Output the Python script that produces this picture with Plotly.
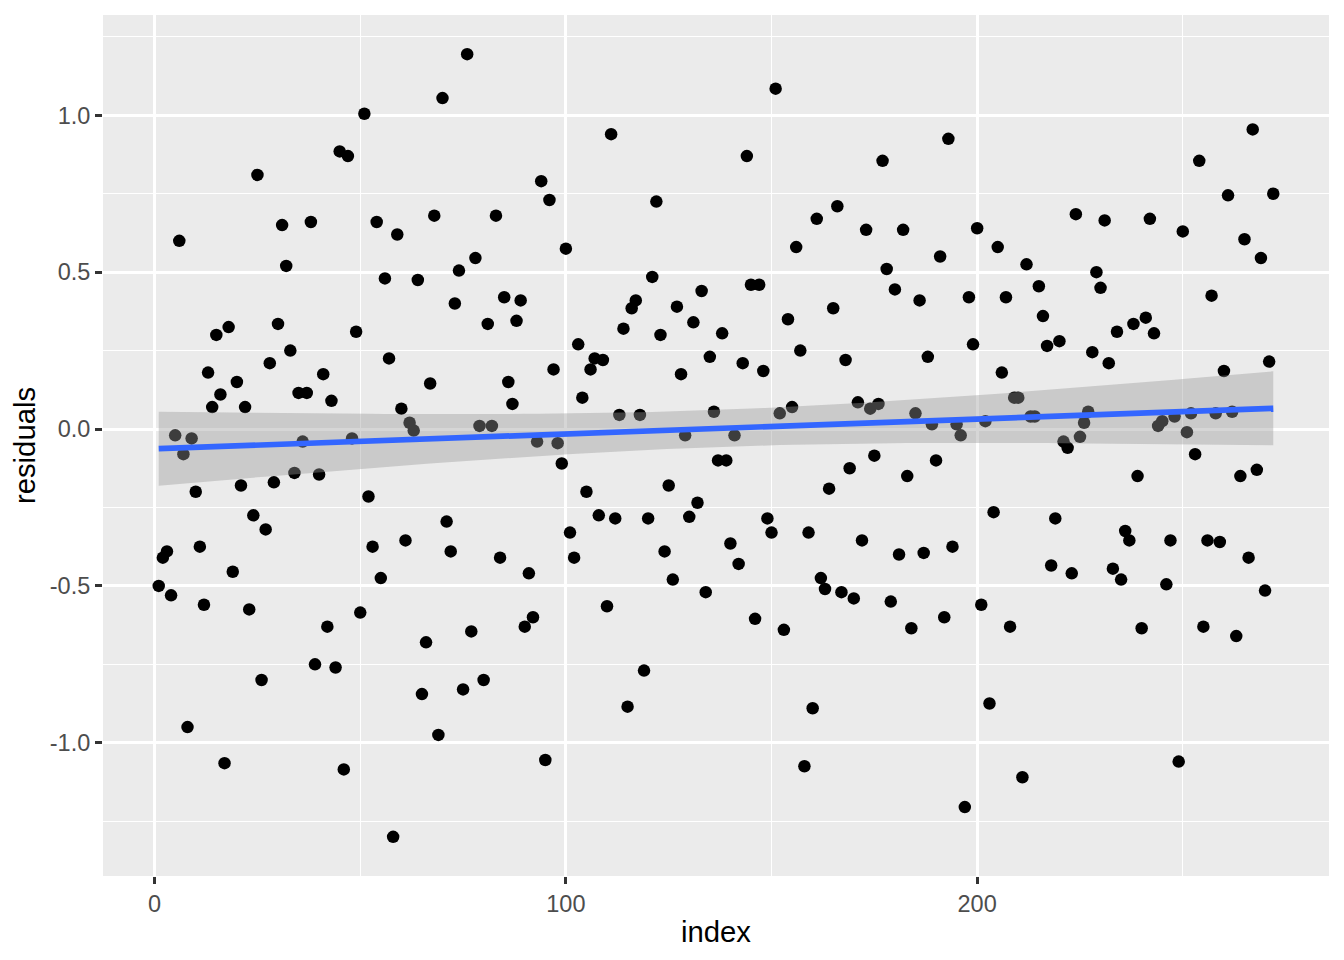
import numpy as np
import plotly.graph_objects as go

# residuals, in index order (index = 1..272)
residuals = [
    -0.50, -0.41, -0.39, -0.53, -0.02, 0.60, -0.08, -0.95, -0.03, -0.20,
    -0.375, -0.56, 0.18, 0.07, 0.30, 0.11, -1.065, 0.325, -0.455, 0.15,
    -0.18, 0.07, -0.575, -0.275, 0.81, -0.80, -0.32, 0.21, -0.17, 0.335,
    0.65, 0.52, 0.25, -0.14, 0.115, -0.04, 0.115, 0.66, -0.75, -0.145,
    0.175, -0.63, 0.09, -0.76, 0.885, -1.085, 0.87, -0.03, 0.31, -0.585,
    1.005, -0.215, -0.375, 0.66, -0.475, 0.48, 0.225, -1.30, 0.62, 0.065,
    -0.355, 0.02, -0.005, 0.475, -0.845, -0.68, 0.145, 0.68, -0.975, 1.055,
    -0.295, -0.39, 0.40, 0.505, -0.83, 1.195, -0.645, 0.545, 0.01, -0.80,
    0.335, 0.01, 0.68, -0.41, 0.42, 0.15, 0.08, 0.345, 0.41, -0.63,
    -0.46, -0.60, -0.04, 0.79, -1.055, 0.73, 0.19, -0.045, -0.11, 0.575,
    -0.33, -0.41, 0.27, 0.10, -0.20, 0.19, 0.225, -0.275, 0.22, -0.565,
    0.94, -0.285, 0.045, 0.32, -0.885, 0.385, 0.41, 0.045, -0.77, -0.285,
    0.485, 0.725, 0.30, -0.39, -0.18, -0.48, 0.39, 0.175, -0.02, -0.28,
    0.34, -0.235, 0.44, -0.52, 0.23, 0.055, -0.10, 0.305, -0.10, -0.365,
    -0.02, -0.43, 0.21, 0.87, 0.46, -0.605, 0.46, 0.185, -0.285, -0.33,
    1.085, 0.05, -0.64, 0.35, 0.07, 0.58, 0.25, -1.075, -0.33, -0.89,
    0.67, -0.475, -0.51, -0.19, 0.385, 0.71, -0.52, 0.22, -0.125, -0.54,
    0.085, -0.355, 0.635, 0.065, -0.085, 0.08, 0.855, 0.51, -0.55, 0.445,
    -0.40, 0.635, -0.15, -0.635, 0.05, 0.41, -0.395, 0.23, 0.015, -0.10,
    0.55, -0.60, 0.925, -0.375, 0.015, -0.02, -1.205, 0.42, 0.27, 0.64,
    -0.56, 0.025, -0.875, -0.265, 0.58, 0.18, 0.42, -0.63, 0.10, 0.10,
    -1.11, 0.525, 0.04, 0.04, 0.455, 0.36, 0.265, -0.435, -0.285, 0.28,
    -0.04, -0.06, -0.46, 0.685, -0.025, 0.02, 0.055, 0.245, 0.50, 0.45,
    0.665, 0.21, -0.445, 0.31, -0.48, -0.325, -0.355, 0.335, -0.15, -0.635,
    0.355, 0.67, 0.305, 0.01, 0.025, -0.495, -0.355, 0.04, -1.06, 0.63,
    -0.01, 0.05, -0.08, 0.855, -0.63, -0.355, 0.425, 0.05, -0.36, 0.185,
    0.745, 0.055, -0.66, -0.15, 0.605, -0.41, 0.955, -0.13, 0.545, -0.515,
    0.215, 0.75,
]
index = list(range(1, len(residuals) + 1))

x_ticks = [0, 100, 200]
x_ticktext = ["0", "100", "200"]
x_minor = [50, 150, 250]
y_ticks = [-1.0, -0.5, 0.0, 0.5, 1.0]
y_ticktext = ["-1.0", "-0.5", "0.0", "0.5", "1.0"]
y_minor = [-1.25, -0.75, -0.25, 0.25, 0.75, 1.25]

# linear fit + 95% confidence band (like geom_smooth(method = "lm"))
x = np.array(index, dtype=float)
y = np.array(residuals, dtype=float)
n = len(x)
slope, intercept = np.polyfit(x, y, 1)
resid = y - (intercept + slope * x)
s = np.sqrt(np.sum(resid ** 2) / (n - 2))
sxx = np.sum((x - x.mean()) ** 2)
t_crit = 1.96878  # t(0.975, df = 270)
xs = np.linspace(x.min(), x.max(), 80)
fit = intercept + slope * xs
se = s * np.sqrt(1 / n + (xs - x.mean()) ** 2 / sxx)
lower = fit - t_crit * se
upper = fit + t_crit * se

# axis ranges with ggplot's 5% expansion
xr = x.max() - x.min()
yr = y.max() - y.min()
x_range = [x.min() - 0.05 * xr, x.max() + 0.05 * xr]
y_range = [y.min() - 0.05 * yr, y.max() + 0.05 * yr]

fig = go.Figure()

fig.add_trace(go.Scatter(
    x=index, y=residuals, mode="markers",
    marker=dict(color="black", size=12.5, line=dict(width=0)),
    showlegend=False,
))

fig.add_trace(go.Scatter(
    x=np.concatenate([xs, xs[::-1]]),
    y=np.concatenate([upper, lower[::-1]]),
    fill="toself", fillcolor="rgba(153,153,153,0.4)",
    line=dict(width=0), mode="lines",
    hoverinfo="skip", showlegend=False,
))

fig.add_trace(go.Scatter(
    x=xs, y=fit, mode="lines",
    line=dict(color="#3366FF", width=5.7),
    showlegend=False,
))

# page body has an 8px margin, so the figure is 8px smaller and margins shifted
fig.update_layout(
    width=1336, height=952,
    margin=dict(l=95, r=15, t=7, b=84),
    paper_bgcolor="white",
    plot_bgcolor="#EBEBEB",
    font=dict(family="Liberation Sans, Arial, sans-serif", color="black"),
)

fig.update_xaxes(
    range=x_range,
    tickmode="array", tickvals=x_ticks, ticktext=x_ticktext,
    showgrid=True, gridcolor="white", gridwidth=2.8,
    minor=dict(tickmode="array", tickvals=x_minor, showgrid=True,
               gridcolor="white", gridwidth=1.4, ticks=""),
    ticks="outside", ticklen=7, tickwidth=2.8, tickcolor="#333333",
    tickfont=dict(size=23.5, color="#4D4D4D"),
    zeroline=False, showline=False,
    title=dict(text="index", font=dict(size=29.3, color="black"), standoff=5),
)

fig.update_yaxes(
    range=y_range,
    tickmode="array", tickvals=y_ticks, ticktext=y_ticktext,
    showgrid=True, gridcolor="white", gridwidth=2.8,
    minor=dict(tickmode="array", tickvals=y_minor, showgrid=True,
               gridcolor="white", gridwidth=1.4, ticks=""),
    ticks="outside", ticklen=7, tickwidth=2.8, tickcolor="#333333",
    tickfont=dict(size=23.5, color="#4D4D4D"),
    zeroline=False, showline=False,
    title=dict(text="residuals", font=dict(size=29.3, color="black"), standoff=9),
)

fig.write_html("out.html")
